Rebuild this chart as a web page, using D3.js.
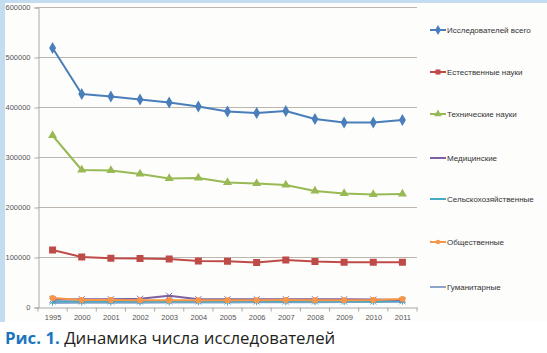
<!DOCTYPE html>
<html lang="ru">
<head>
<meta charset="UTF-8">
<title>Динамика числа исследователей</title>
<script src="https://d3js.org/d3.v7.min.js"></script>
<style>
  body { margin: 0; background: #fff; }
  svg { display: block; }
</style>
</head>
<body>
<svg width="547" height="353"></svg>
<script>
// категории и ряды
var years = ['1995','2000','2001','2002','2003','2004','2005','2006','2007','2008','2009','2010','2011'];
var seriesNames = ['Исследователей всего','Естественные науки','Технические науки','Медицинские','Сельскохозяйственные','Общественные','Гуманитарные'];
var total    = [518000,426000,421000,415000,409000,401000,391000,388000,392000,376000,369000,369000,374000];
var natural  = [114000,100000,97500,97000,96000,92000,91500,89000,94000,91000,89500,89500,89500];
var technic  = [343000,274000,273000,266000,257000,258000,249000,247000,244000,232000,227000,225000,226000];
var medical  = [15000,15500,15500,16500,22500,15500,15500,15500,15500,15500,15500,15000,14000];
var agro     = [11000,11000,11000,11000,11000,11000,11000,11000,11000,11000,11000,11000,11500];
var social   = [18000,14000,14000,13500,13500,13500,13500,13500,14000,13500,13500,14000,16000];
var human    = [8000,8500,8500,8500,9000,9000,9000,9500,9500,9500,10000,10000,10500];
var yTicks = [0,100000,200000,300000,400000,500000,600000];

var colors = ['#4a7ebb','#be4b48','#98b954','#7d60a0','#46aac5','#f79646','#8ea5cb'];
var markers = ['diamond','square','triangle','cross','star','circle','plus'];
var allSeries = [total, natural, technic, medical, agro, social, human];

var svg = d3.select('svg');

// голубая рамка слева и сверху
svg.append('rect').attr('x',0).attr('y',0).attr('width',547).attr('height',322).attr('fill','#c4dcef');
svg.append('rect').attr('x',5).attr('y',3).attr('width',542).attr('height',319).attr('fill','#fdfdfc');

var plotLeft = 38, plotRight = 417, plotTop = 7, plotBottom = 307;

var x = d3.scalePoint().domain(years).range([plotLeft, plotRight]).padding(0.5);
var y = d3.scaleLinear().domain([0, 600000]).range([plotBottom, plotTop]);

// сетка
svg.append('g').selectAll('line').data(yTicks.slice(1)).enter().append('line')
    .attr('x1', plotLeft).attr('x2', plotRight)
    .attr('y1', function (d) { return y(d) + 0.5; }).attr('y2', function (d) { return y(d) + 0.5; })
    .attr('stroke', '#bdb6ae').attr('stroke-width', 1);

// оси
var axisY = d3.axisLeft(y).tickValues(yTicks).tickSize(4).tickFormat(d3.format('d'));
var gy = svg.append('g').attr('transform', 'translate(' + (plotLeft + 0.5) + ',0.5)').call(axisY);
gy.select('.domain').attr('stroke', '#a9a9a9');
gy.selectAll('.tick line').attr('stroke', '#a9a9a9');
gy.selectAll('.tick text').attr('fill', '#555').attr('font-family', 'Liberation Sans').attr('font-size', '7.5px').attr('x', -8);

var axisX = d3.axisBottom(x).tickSize(0).tickPadding(7);
var gx = svg.append('g').attr('transform', 'translate(0,' + (plotBottom + 0.5) + ')').call(axisX);
gx.select('.domain').attr('stroke', '#a9a9a9');
gx.selectAll('.tick text').attr('fill', '#555').attr('font-family', 'Liberation Sans').attr('font-size', '7.5px');
// засечки между категориями
gx.append('g').selectAll('line').data(d3.range(years.length + 1)).enter().append('line')
    .attr('x1', function (i) { return plotLeft + i * x.step(); }).attr('x2', function (i) { return plotLeft + i * x.step(); })
    .attr('y1', 0).attr('y2', 4).attr('stroke', '#a9a9a9');

function marker(g, type, color, size) {
    var s = size;
    if (type === 'diamond') {
        g.append('path').attr('d', d3.symbol().type(d3.symbolDiamond).size(s * 6)).attr('fill', color);
    } else if (type === 'square') {
        g.append('rect').attr('x', -s / 2).attr('y', -s / 2).attr('width', s).attr('height', s).attr('fill', color);
    } else if (type === 'triangle') {
        g.append('path').attr('d', d3.symbol().type(d3.symbolTriangle).size(s * 5)).attr('fill', color);
    } else if (type === 'circle') {
        g.append('circle').attr('r', s / 2.3).attr('fill', color);
    } else if (type === 'cross') {
        g.append('path').attr('d', 'M-3,-3L3,3M-3,3L3,-3').attr('stroke', color).attr('stroke-width', 1);
    } else if (type === 'star') {
        g.append('path').attr('d', 'M-3,-3L3,3M-3,3L3,-3M0,-3L0,3').attr('stroke', color).attr('stroke-width', 1);
    } else if (type === 'plus') {
        g.append('path').attr('d', 'M-3,0L3,0M0,-3L0,3').attr('stroke', color).attr('stroke-width', 1);
    }
}

var line = d3.line().x(function (d, i) { return x(years[i]); }).y(function (d) { return y(d); });

// рисуем ряды снизу вверх
var order = [6, 4, 3, 5, 1, 2, 0];
order.forEach(function (k) {
    var g = svg.append('g');
    g.append('path').datum(allSeries[k]).attr('d', line)
        .attr('fill', 'none').attr('stroke', colors[k]).attr('stroke-width', 2).attr('stroke-linejoin', 'round');
    g.selectAll('g.m').data(allSeries[k]).enter().append('g')
        .attr('transform', function (d, i) { return 'translate(' + x(years[i]) + ',' + y(d) + ')'; })
        .each(function () { marker(d3.select(this), markers[k], colors[k], 7); });
});

// легенда
var legendY = [30, 72, 114, 158, 199, 242, 287];
var lg = svg.append('g');
seriesNames.forEach(function (name, k) {
    var item = lg.append('g').attr('transform', 'translate(430,' + legendY[k] + ')');
    item.append('line').attr('x1', 0).attr('x2', 16).attr('y1', 0).attr('y2', 0)
        .attr('stroke', colors[k]).attr('stroke-width', 2);
    if (k < 3 || k === 5) {
        var m = item.append('g').attr('transform', 'translate(8,0)');
        marker(m, markers[k], colors[k], 5);
    }
    item.append('text').attr('x', 17).attr('y', 3).text(name)
        .attr('font-family', 'Liberation Sans').attr('font-size', '8px').attr('fill', '#333');
});

// подпись
var cap = svg.append('text').attr('x', 5).attr('y', 344)
    .attr('font-family', 'Open Sans').attr('font-size', '16.8px');
cap.append('tspan').attr('font-weight', 'bold').attr('fill', '#1b75bc').text('Рис. 1.');
cap.append('tspan').attr('fill', '#231f20').text(' Динамика числа исследователей');
</script>
</body>
</html>
